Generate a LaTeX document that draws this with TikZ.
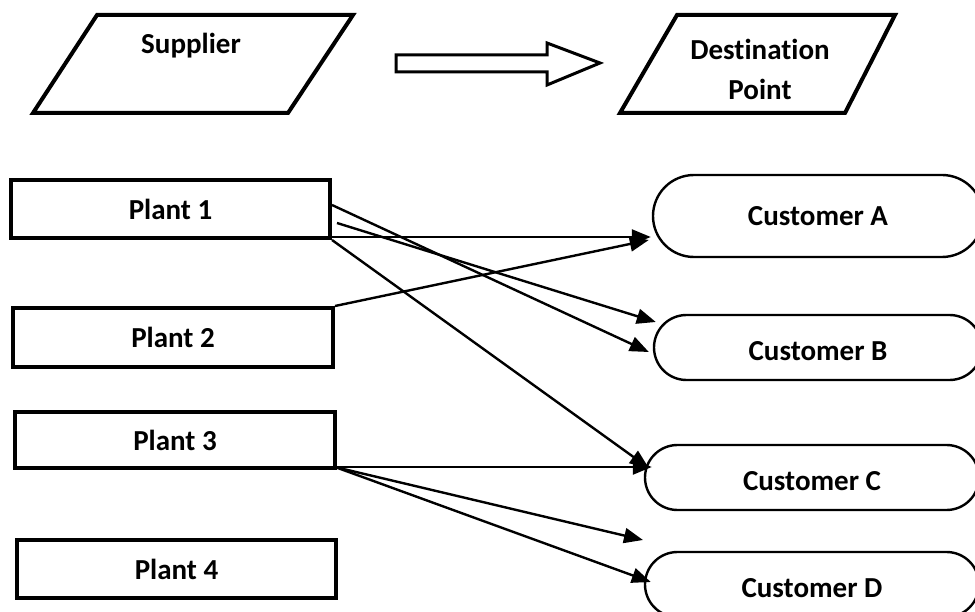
\documentclass[tikz,border=0pt]{standalone}
\usepackage{fontspec}
\setmainfont[RawFeature=-liga]{Carlito}
\usetikzlibrary{arrows.meta,shapes.misc}
\tikzset{
  lbl/.style={font=\fontsize{29pt}{40pt}\selectfont\bfseries, inner sep=0pt, align=center},
  plantbox/.style={lbl, draw, line width=4pt, rectangle, minimum width=319pt, minimum height=58pt},
  custbox/.style={lbl, draw, line width=2.4pt, rounded rectangle, minimum height=65pt},
  lowtext/.style={text height=26pt, text depth=0pt},
  para/.style={draw, line width=4pt, line join=miter},
  conn/.style={line width=2.4pt, -{Triangle[length=19pt,width=15pt]}},
  blockarrow/.style={draw, line width=3pt, line join=miter}
}
\begin{document}
\begin{tikzpicture}[x=1pt,y=-1pt]
\useasboundingbox (0,0) rectangle (975,612);
\fill[white] (0,0) rectangle (975,612);

% top row
\draw[para] (97,15) -- (353,15) -- (288,113) -- (33,113) -- cycle;
\node[lbl] (sup) at (191,46) {Supplier};
\draw[blockarrow] (396,55) -- (547,55) -- (547,43) -- (600,63) -- (547,85) -- (547,72) -- (396,72) -- cycle;
\draw[para] (677,15) -- (895,15) -- (845,113) -- (620,113) -- cycle;
\node[lbl] (dest) at (760,69) {Destination\\Point};

% plants
\node[plantbox] (p1) at (170.5,209) {Plant 1};
\node[plantbox, minimum width=320pt, minimum height=59pt] (p2) at (173,337.5) {Plant 2};
\node[plantbox, minimum width=320pt, minimum height=56pt] (p3) at (175,440) {Plant 3};
\node[plantbox] (p4) at (176.5,569) {Plant 4};

% customers
\node[custbox, minimum width=330pt, minimum height=82pt] (cA) at (818,216) {Customer A};
\node[custbox, lowtext, minimum width=328pt] (cB) at (818,347.5) {Customer B};
\node[custbox, lowtext, minimum width=334pt] (cC) at (812,477.5) {Customer C};
\node[custbox, lowtext, minimum width=334pt] (cD) at (812,584.5) {Customer D};
\coordinate (gap) at (643,540);

% connectors
\draw[conn] ([yshift=3pt]p1.south east) -- ([xshift=-1pt,yshift=-21pt]cA.west);
\draw[conn] (p2.north east) -- ([xshift=-3pt,yshift=-24pt]cA.west);
\draw[conn] ([xshift=5pt,yshift=-14pt]p1.east) -- ([xshift=3pt,yshift=25.5pt]cB.west);
\draw[conn] ([yshift=4pt]p1.east) -- ([xshift=-4pt,yshift=-4.5pt]cB.west);
\draw[conn] (p1.south east) -- ([xshift=5pt,yshift=9.5pt]cC.west);
\draw[conn] ([xshift=-2pt,yshift=3pt]p3.south east) -- ([xshift=8pt,yshift=10.5pt]cC.west);
\draw[conn] ([xshift=-2pt,yshift=3pt]p3.south east) -- (gap);
\draw[conn] ([xshift=-2pt,yshift=3pt]p3.south east) -- ([xshift=7pt,yshift=2.5pt]cD.west);
\end{tikzpicture}
\end{document}
